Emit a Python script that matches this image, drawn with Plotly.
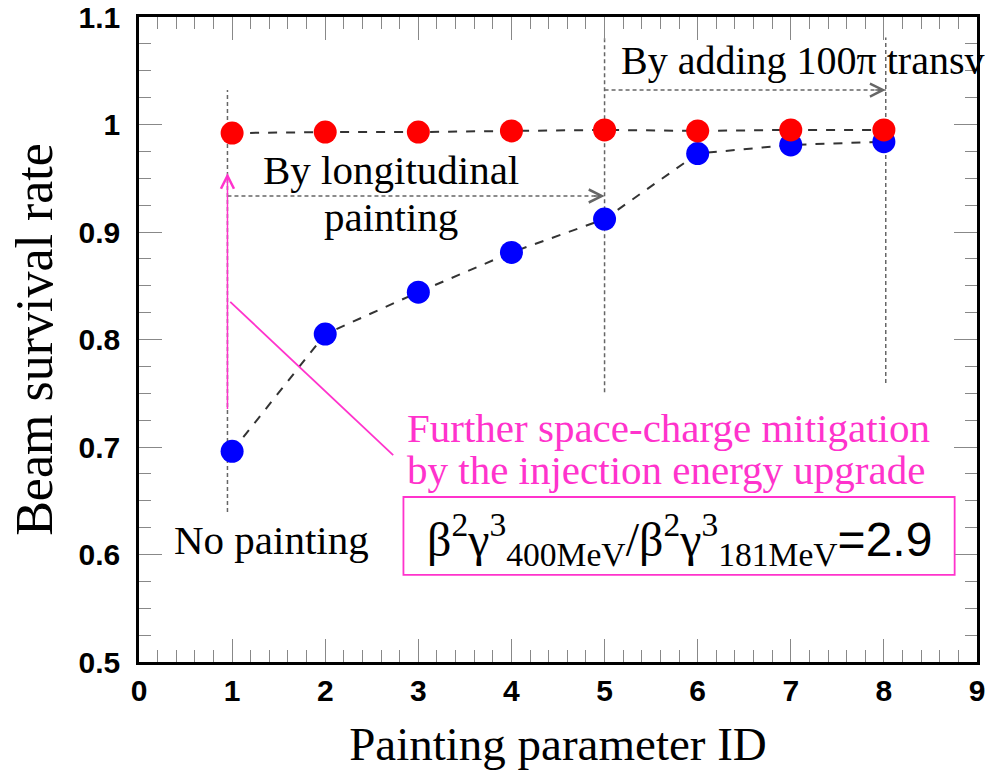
import plotly.graph_objects as go

# ---- data ----
param_id = [1, 2, 3, 4, 5, 6, 7, 8]
survival_400 = [0.992, 0.993, 0.993, 0.994, 0.995, 0.994, 0.995, 0.995]
survival_181 = [0.696, 0.805, 0.844, 0.881, 0.912, 0.973, 0.981, 0.984]
x_ticks = [0, 1, 2, 3, 4, 5, 6, 7, 8, 9]
y_ticks = [0.5, 0.6, 0.7, 0.8, 0.9, 1.0, 1.1]
y_tick_text = ["0.5", "0.6", "0.7", "0.8", "0.9", "1", "1.1"]

SERIF = "Liberation Serif"
MAG = "#ff33cc"
GRAY = "#666666"

fig = go.Figure()
fig.add_trace(go.Scatter(x=param_id, y=survival_181, mode="lines+markers",
                         line=dict(color="#333333", width=2, dash="dash"),
                         marker=dict(color="#0000ff", size=23), showlegend=False))
fig.add_trace(go.Scatter(x=param_id, y=survival_400, mode="lines+markers",
                         line=dict(color="#333333", width=2, dash="dash"),
                         marker=dict(color="#ff0000", size=23), showlegend=False))

# guide lines
dash_line = dict(color=GRAY, width=1.5, dash="4px,3px")
for (x0, y0, x1, y1) in [(0.95, 0.6395, 0.95, 1.032), (5, 0.751, 5, 1.081),
                         (8.02, 0.7595, 8.02, 1.081), (0.95, 0.9335, 5, 0.9335),
                         (5, 1.032, 8.02, 1.032)]:
    fig.add_shape(type="line", x0=x0, y0=y0, x1=x1, y1=y1, line=dash_line, layer="below")

# arrow heads for dashed arrows
for (xh, yh) in [(5, 0.9335), (8.02, 1.032)]:
    fig.add_annotation(x=xh, y=yh, ax=-12, ay=0, text="", showarrow=True,
                       arrowhead=5, arrowsize=1.7, arrowwidth=1.5, arrowcolor=GRAY)

# magenta arrow and pointer line
fig.add_annotation(x=0.95, y=0.955, ax=0.95, ay=0.734, axref="x", ayref="y",
                   text="", showarrow=True, arrowhead=5, arrowsize=1.7,
                   arrowwidth=1.5, arrowcolor=MAG)
fig.add_shape(type="line", x0=0.98, y0=0.835, x1=2.73, y1=0.6925,
              line=dict(color=MAG, width=1.8))
fig.add_shape(type="rect", x0=2.84, y0=0.581, x1=8.76, y1=0.6535,
              line=dict(color=MAG, width=1.8))

def txt(x, y, s, size, color="black", xanchor="center", family=SERIF):
    fig.add_annotation(x=x, y=y, text=s, showarrow=False, xanchor=xanchor,
                       yanchor="middle", font=dict(family=family, size=size, color=color))

txt(2.71, 0.9577, "By longitudinal", 41)
txt(2.71, 0.914, "painting", 41)
txt(5.16, 1.06, "By adding 100π transv", 40, xanchor="left")
txt(1.42, 0.6135, "No painting", 41)
txt(2.86, 0.7177, "Further space-charge mitigation", 41, color=MAG, xanchor="left")
txt(2.86, 0.6786, "by the injection energy upgrade", 41, color=MAG, xanchor="left")
txt(5.8, 0.6135, "β<sup>2</sup>γ<sup>3</sup><sub>400MeV</sub>/β<sup>2</sup>γ<sup>3</sup>"
    "<sub>181MeV</sub><span style='font-family:Liberation Sans'>=2.9</span>", 48)

axis_common = dict(showgrid=False, zeroline=False, showline=True, linecolor="black",
                   linewidth=2.5, mirror="ticks", ticks="inside", ticklen=23,
                   tickwidth=1.2, tickcolor="#888888", automargin=False,
                   ticklabeloverflow="allow",
                   tickfont=dict(family="Liberation Sans", size=30, color="black", weight="bold"))

fig.update_xaxes(range=[0, 9], tickvals=x_ticks, ticktext=[str(v) for v in x_ticks],
                 minor=dict(ticks="inside", dtick=0.2, ticklen=12, tickcolor="#888888", tickwidth=1.2),
                 title=dict(text="Painting parameter ID", font=dict(family=SERIF, size=47, color="black"), standoff=22),
                 ticklabelstandoff=0, **axis_common)
fig.update_yaxes(range=[0.5, 1.1], tickvals=y_ticks, ticktext=y_tick_text,
                 minor=dict(ticks="inside", dtick=0.025, ticklen=12, tickcolor="#888888", tickwidth=1.2),
                 title=dict(text="Beam survival rate", font=dict(family=SERIF, size=52, color="black"), standoff=10),
                 ticklabelstandoff=10, **axis_common)

fig.update_layout(width=985, height=779, plot_bgcolor="white", paper_bgcolor="white",
                  margin=dict(l=139, r=8, t=17, b=117))
# remove the browser's default page margin so the figure fills the window
fig.write_html("out.html", config={"displayModeBar": False},
               post_script="document.body.style.margin='0px';")
